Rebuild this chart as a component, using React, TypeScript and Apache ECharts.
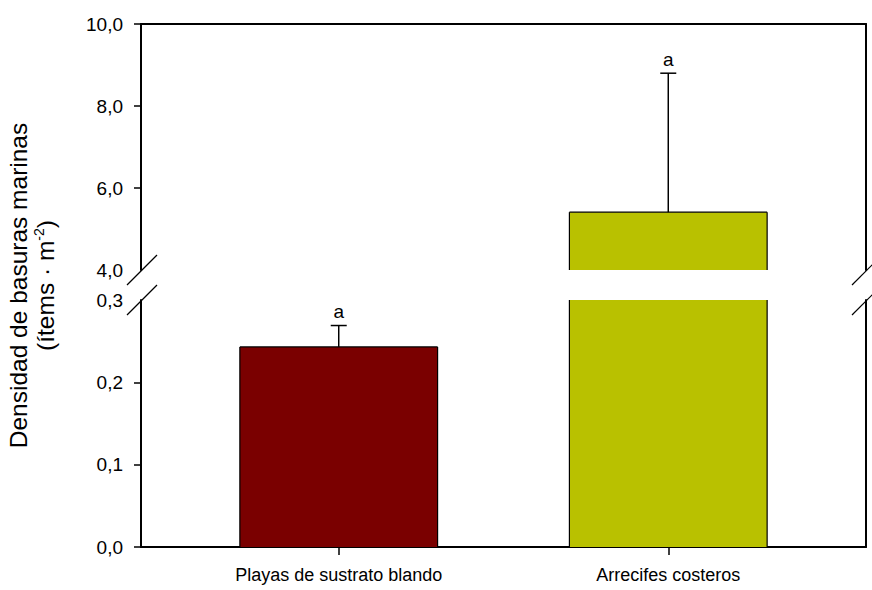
import React, { useEffect, useRef } from "react";
import * as echarts from "echarts";

// ---- data ----
const categories = ["Playas de sustrato blando", "Arrecifes costeros"];
const means = [0.243, 5.41];
const errors = [0.026, 3.39];
const letters = ["a", "a"];
const upperTicks = [4, 6, 8, 10];
const lowerTicks = [0, 0.1, 0.2, 0.3];

// ---- styles / layout ----
const barColors = ["#7a0000", "#b9c100"];
const FONT = "Liberation Sans, Arial, sans-serif";
const LEFT = 141;
const RIGHT_X = 866;
const TOP1 = 24;
const BOT1 = 270;
const TOP2 = 300;
const BOT2 = 547;
const BAR_W = 0.6; // in x-axis units
const X_MIN = 0.4;
const X_MAX = 2.6;

const fmt = (v: number) => v.toFixed(1).replace(".", ",");

function renderBar(params: any, api: any) {
  const x = api.value(0);
  const v = api.value(1);
  const cs = params.coordSys;
  const xl = api.coord([x - BAR_W / 2, v])[0];
  const xr = api.coord([x + BAR_W / 2, v])[0];
  const yTop = api.coord([x, v])[1];
  const yBase = api.coord([x, 0])[1];
  const yT = Math.max(yTop, cs.y);
  const yB = Math.min(yBase, cs.y + cs.height);
  if (yT >= yB) return null;
  const lineStyle = { stroke: "#000", lineWidth: 1.2 };
  const children: any[] = [
    {
      type: "rect",
      shape: { x: xl, y: yT, width: xr - xl, height: yB - yT },
      style: { fill: barColors[params.dataIndex], stroke: null },
    },
    { type: "line", shape: { x1: xl, y1: yT, x2: xl, y2: yB }, style: lineStyle },
    { type: "line", shape: { x1: xr, y1: yT, x2: xr, y2: yB }, style: lineStyle },
  ];
  if (yTop >= cs.y) {
    children.push({ type: "line", shape: { x1: xl, y1: yTop, x2: xr, y2: yTop }, style: lineStyle });
  }
  return { type: "group", children };
}

function renderErr(params: any, api: any) {
  const x = api.value(0);
  const m = api.value(1);
  const e = api.value(2);
  const cs = params.coordSys;
  const p0 = api.coord([x, m]);
  const p1 = api.coord([x, m + e]);
  if (p1[1] < cs.y - 1 || p1[1] > cs.y + cs.height + 1) return null;
  const y0 = Math.min(p0[1], cs.y + cs.height);
  const ls = { stroke: "#000", lineWidth: 1.5 };
  return {
    type: "group",
    children: [
      { type: "line", shape: { x1: p0[0], y1: y0, x2: p1[0], y2: p1[1] }, style: ls },
      { type: "line", shape: { x1: p1[0] - 8, y1: p1[1], x2: p1[0] + 8, y2: p1[1] }, style: ls },
      {
        type: "text",
        x: p1[0],
        y: p1[1] - 14,
        style: {
          text: letters[params.dataIndex],
          fill: "#000",
          fontSize: 19,
          fontFamily: FONT,
          align: "center",
          verticalAlign: "middle",
        },
      },
    ],
  };
}

export default function App() {
  const ref = useRef<HTMLDivElement>(null);
  useEffect(() => {
    if (!ref.current) return;
    const chart = echarts.init(ref.current, null, { renderer: "svg" });
    const barData = means.map((m, i) => [i + 1, m]);
    const errData = means.map((m, i) => [i + 1, m, errors[i]]);
    const axisLine = { show: true, onZero: false, lineStyle: { color: "#000", width: 2 } };
    const yLabel = { color: "#000", fontSize: 19, fontFamily: FONT, margin: 18, formatter: fmt };
    const yTick = { show: true, length: 7, lineStyle: { color: "#000", width: 1.5 } };
    const slash = (x: number, y: number) => ({
      type: "line",
      shape: { x1: x - 14, y1: y + 15, x2: x + 16, y2: y - 15 },
      style: { stroke: "#000", lineWidth: 1.2 },
      z: 100,
    });
    chart.setOption({
      animation: false,
      backgroundColor: "#fff",
      grid: [
        { left: LEFT, top: TOP1, width: RIGHT_X - LEFT, height: BOT1 - TOP1 },
        { left: LEFT, top: TOP2, width: RIGHT_X - LEFT, height: BOT2 - TOP2 },
      ],
      xAxis: [
        {
          type: "value", gridIndex: 0, min: X_MIN, max: X_MAX, position: "top",
          axisLine, axisTick: { show: false }, axisLabel: { show: false }, splitLine: { show: false },
        },
        {
          type: "value", gridIndex: 1, min: X_MIN, max: X_MAX, position: "bottom",
          axisLine,
          axisTick: { show: true, customValues: [1, 2], length: 8, lineStyle: { color: "#000", width: 1.5 } },
          axisLabel: {
            customValues: [1, 2],
            color: "#000", fontSize: 18, fontFamily: FONT, margin: 19,
            formatter: (v: number) => categories[Math.round(v) - 1] ?? "",
          },
          splitLine: { show: false },
        },
      ],
      yAxis: [
        {
          type: "value", gridIndex: 0, min: upperTicks[0], max: upperTicks[upperTicks.length - 1], interval: 2,
          position: "left", axisLine,
          axisTick: { ...yTick, customValues: upperTicks.slice(1) },
          axisLabel: { ...yLabel, customValues: upperTicks },
          splitLine: { show: false },
        },
        {
          type: "value", gridIndex: 0, min: upperTicks[0], max: upperTicks[upperTicks.length - 1],
          position: "right", axisLine, axisTick: { show: false }, axisLabel: { show: false }, splitLine: { show: false },
        },
        {
          type: "value", gridIndex: 1, min: lowerTicks[0], max: lowerTicks[lowerTicks.length - 1], interval: 0.1,
          position: "left", axisLine,
          axisTick: { ...yTick, customValues: lowerTicks.slice(0, -1) },
          axisLabel: { ...yLabel, customValues: lowerTicks },
          splitLine: { show: false },
        },
        {
          type: "value", gridIndex: 1, min: lowerTicks[0], max: lowerTicks[lowerTicks.length - 1],
          position: "right", axisLine, axisTick: { show: false }, axisLabel: { show: false }, splitLine: { show: false },
        },
      ],
      series: [
        { type: "custom", xAxisIndex: 0, yAxisIndex: 0, data: barData, renderItem: renderBar, clip: false, encode: { x: 0, y: 1 } },
        { type: "custom", xAxisIndex: 1, yAxisIndex: 2, data: barData, renderItem: renderBar, clip: false, encode: { x: 0, y: 1 } },
        { type: "custom", xAxisIndex: 0, yAxisIndex: 0, data: errData, renderItem: renderErr, clip: false, encode: { x: 0, y: 1 }, z: 3 },
        { type: "custom", xAxisIndex: 1, yAxisIndex: 2, data: errData, renderItem: renderErr, clip: false, encode: { x: 0, y: 1 }, z: 3 },
      ],
      graphic: [
        slash(LEFT, BOT1),
        slash(LEFT, TOP2),
        slash(RIGHT_X, BOT1),
        slash(RIGHT_X, TOP2),
        {
          type: "text",
          x: 32,
          y: (TOP1 + BOT2) / 2,
          rotation: Math.PI / 2,
          style: {
            text: "Densidad de basuras marinas\n(ítems · m{sup|-2})",
            fill: "#000",
            fontSize: 24.5,
            fontFamily: FONT,
            lineHeight: 27,
            align: "center",
            verticalAlign: "middle",
            rich: {
              sup: { fontSize: 14, fontFamily: FONT, fill: "#000", verticalAlign: "top", lineHeight: 27 },
            },
          },
        },
      ],
    });
    return () => chart.dispose();
  }, []);
  return <div ref={ref} style={{ position: "fixed", left: 0, top: 0, width: 872, height: 590 }} />;
}
